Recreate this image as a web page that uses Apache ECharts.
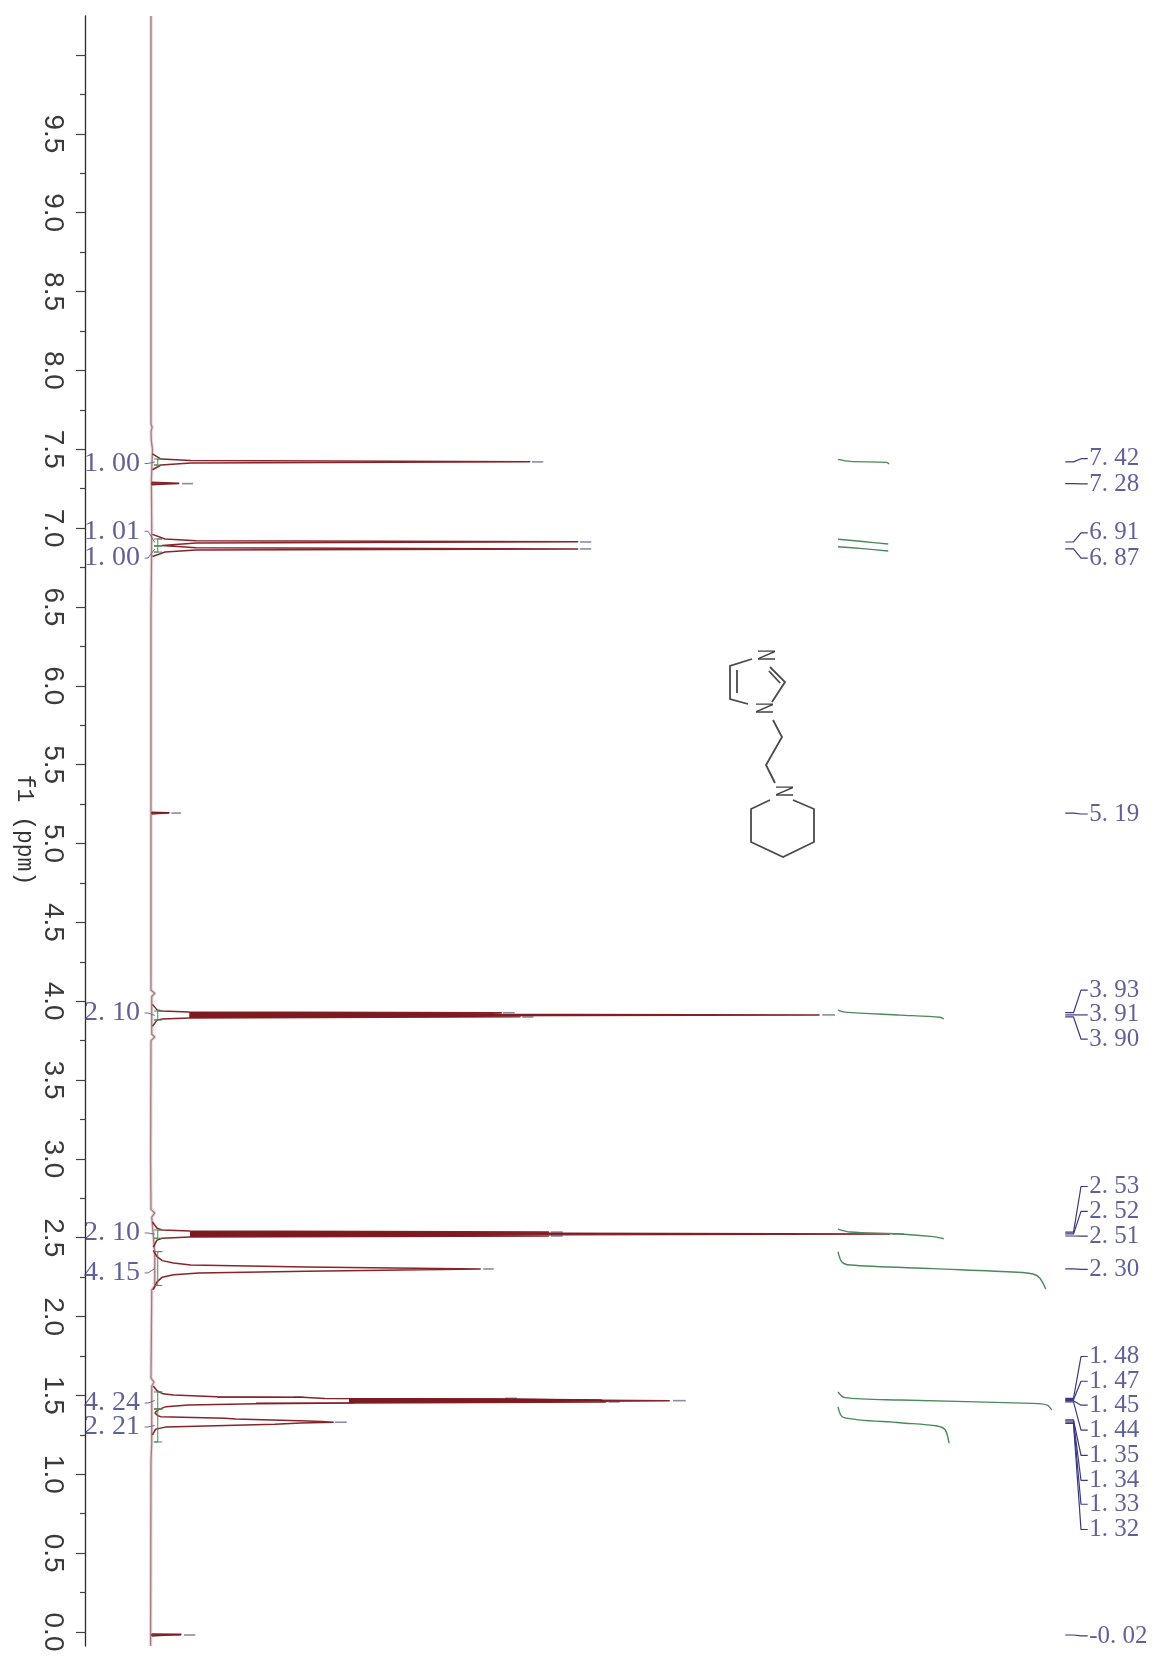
<!DOCTYPE html>
<html>
<head>
<meta charset="utf-8">
<style>html,body{margin:0;padding:0;background:#fff}#c{width:1156px;height:1657px}</style>
<script src="https://cdn.jsdelivr.net/npm/echarts@6/dist/echarts.min.js"></script>
</head>
<body>
<div id="c"></div>
<script>
// ---- axis ----
const majorTicks = [0,0.5,1,1.5,2,2.5,3,3.5,4,4.5,5,5.5,6,6.5,7,7.5,8,8.5,9,9.5,10];
const minorTicks = [0.25,0.75,1.25,1.75,2.25,2.75,3.25,3.75,4.25,4.75,5.25,5.75,6.25,6.75,7.25,7.75,8.25,8.75,9.25,9.75];
const tickLabels = [0,0.5,1,1.5,2,2.5,3,3.5,4,4.5,5,5.5,6,6.5,7,7.5,8,8.5,9,9.5];

// ---- spectrum, all points are [ppm, intensity] ----
const baseline = [[10.247,0],[7.66,0],[7.64,0.15],[7.61,0],[7.55,0.05],[7.5,0.2],[7.3,0.05],[7.0,0.1],[6.7,0.05],[6.5,0],
  [4.07,0],[4.05,0.5],[4.03,0.1],[3.79,0.1],[3.773,0.5],[3.75,0],[3.0,-0.05],[2.68,0],[2.657,0.5],[2.63,0.1],[2.403,0.5],[2.194,0.5],[2.17,0.1],
  [1.61,0],[1.585,0.4],[1.56,0.1],[1.2,0.1],[1.1,0],[0.05,-0.05],[-0.089,-0.05]];

const peak742 = [[7.47,0.2],[7.438,1.33],[7.428,5.33],[7.42,50.5],[7.413,5.33],[7.4,1.33],[7.37,0.2]];
const peak728 = [[7.29,0.1],[7.285,3.7],[7.28,3.7],[7.275,0.1]];
const peak691 = [[6.96,0.2],[6.931,1.87],[6.92,6],[6.913,56.9],[6.906,6],[6.89,1.5],[6.875,6],[6.868,56.9],[6.861,6],[6.848,1.87],[6.82,0.2]];
const peak519 = [[5.198,0.1],[5.195,2.4],[5.19,2.4],[5.187,0.1]];
const peak391 = [[3.98,0.2],[3.945,0.8],[3.938,1.5],[3.931,5.1],[3.927,46.7],[3.918,40],[3.913,89.07],[3.908,40],[3.901,49.2],[3.893,5.1],[3.887,1.5],[3.88,0.8],[3.84,0.2]];
const peak252 = [[2.6,0.2],[2.56,0.8],[2.549,1.5],[2.543,5.2],[2.536,53],[2.53,40],[2.524,98.5],[2.518,40],[2.511,53],[2.505,5.2],[2.497,1.5],[2.485,0.8],[2.44,0.3]];
const peak230 = [[2.42,0.3],[2.38,0.8],[2.355,1.5],[2.34,3],[2.327,5.3],[2.314,20.7],[2.302,43.9],[2.287,20.7],[2.277,6.4],[2.265,3],[2.25,1.5],[2.22,0.8],[2.17,0.3]];
const peak146 = [[1.56,0.3],[1.53,0.8],[1.51,1.6],[1.503,3],[1.492,8.8],[1.488,20.2],[1.481,23.2],[1.478,45],[1.476,48],[1.47,60],[1.467,69.1],[1.463,60],[1.459,60.6],[1.452,27],[1.447,14],[1.44,5],[1.429,2],[1.41,1],[1.39,0.5]];
const peak133 = [[1.39,0.5],[1.372,0.9],[1.365,1.33],[1.355,9.9],[1.35,11.3],[1.338,20.9],[1.335,22.7],[1.33,24.3],[1.325,20],[1.317,16.5],[1.3,2],[1.296,1.6],[1.285,0.6],[1.25,0.2]];
const peak002 = [[-0.012,0.1],[-0.015,4],[-0.022,4],[-0.025,0.1]];

// filled parts of the unresolved multiplets
const fill391 = [[3.931,5.1],[3.927,46.7],[3.918,40],[3.913,89.07],[3.908,40],[3.901,49.2],[3.893,5.1]];
const fill252 = [[2.543,5.2],[2.536,53],[2.53,40],[2.524,98.5],[2.518,40],[2.511,53],[2.505,5.2]];
const fill146 = [[1.482,26.4],[1.482,45.8],[1.476,60],[1.46,60.6],[1.452,26.4]];
const fill146a = [[1.492,8.8],[1.49,20],[1.486,20],[1.486,8.8]];
const fill146b = [[1.455,14],[1.455,27],[1.449,27],[1.449,14]];
const fill728 = [[7.285,0],[7.285,3.7],[7.278,3.7],[7.278,0]];
const fill519 = [[5.197,0],[5.197,2.4],[5.189,2.4],[5.189,0]];
const fill002 = [[-0.014,0],[-0.014,4],[-0.023,4],[-0.023,0]];

// pale peak-tip dashes: [ppm, from, to]
const tipDashes = [[7.42,50.8,52.3],[7.282,4.13,5.6],[6.912,57.2,58.7],[6.868,57.2,58.7],[5.193,2.7,4],[3.927,46.9,48.5],[3.9,49.5,51],[3.913,89.5,91.2],
  [2.536,53.3,54.9],[2.511,53.3,54.9],[2.524,98.8,100.4],[2.302,44.3,45.7],[1.49,19,20.3],[1.482,47.2,48.8],[1.467,69.6,71.3],[1.459,61,62.5],[1.33,24.5,26.1],[-0.019,4.4,5.9]];

// ---- integral curves, [ppm, intensity] ----
const integral1 = [[7.436,91.6],[7.423,93.2],[7.417,98.1],[7.406,98.4]];
const integral2 = [[6.929,91.6],[6.915,94.9],[6.899,98.3]];
const integral3 = [[6.882,91.6],[6.87,94.9],[6.855,98.3]];
const integral4 = [[3.944,91.6],[3.931,92.5],[3.912,99.9],[3.898,105.2],[3.887,105.7]];
const integral5 = [[2.555,91.6],[2.536,93.2],[2.524,99.9],[2.507,104.3],[2.494,105.7]];
const integral6 = [[2.412,91.6],[2.348,92.1],[2.327,93.2],[2.304,104.3],[2.281,115.5],[2.27,117.6],[2.245,118.5],[2.175,119.3]];
const integral7 = [[1.522,91.6],[1.486,92.5],[1.471,99.9],[1.45,117.6],[1.439,119.5],[1.408,120.1]];
const integral8 = [[1.427,91.6],[1.361,92.3],[1.327,99.9],[1.306,104.8],[1.281,105.9],[1.198,106.4]];

// ---- integral brackets by the baseline: [ppm from, ppm to] ----
const integralRanges = [[7.438,7.4],[6.931,6.887],[6.887,6.848],[3.938,3.881],[2.549,2.497],[2.412,2.197],[1.522,1.414],[1.414,1.205]];
const integralLabels = ['1. 00','1. 01','1. 00','2. 10','2. 10','4. 15','4. 24','2. 21'];
const integralLabelPpm = [7.41,6.98,6.81,3.925,2.53,2.277,1.452,1.3];

// ---- peak picks ----
const pickLabels = ['7. 42','7. 28','6. 91','6. 87','5. 19','3. 93','3. 91','3. 90','2. 53','2. 52','2. 51','2. 30','1. 48','1. 47','1. 45','1. 44','1. 35','1. 34','1. 33','1. 32','-0. 02'];
const pickPpm = [7.42,7.282,6.912,6.868,5.193,3.927,3.913,3.9,2.536,2.524,2.511,2.302,1.482,1.473,1.467,1.459,1.345,1.338,1.33,1.322,-0.019];
const pickLabelPpm = [7.44,7.28,6.97,6.81,5.187,4.07,3.913,3.76,2.825,2.667,2.51,2.3,1.747,1.59,1.438,1.28,1.12,0.962,0.81,0.65,-0.025];

// ---- styling constants ----
const PEAK = '#86242a', GREEN = '#4a8a58', BLUE = '#3a3a80';
const LEAD = [121.9, 123.0, 124.0, 124.9], LABEL_X = 125.1;

const toXY = a => a.map(p => [p[1], p[0]]);
const lineSeries = (pts, color, width, z) => ({type:'line', data:toXY(pts), showSymbol:false, symbol:'none', silent:true, clip:false, z:z||3, animation:false,
  lineStyle:{color:color, width:width, join:'round'}, smooth:false});

const series = [];
series.push(lineSeries(baseline,'#ecdcdc',3.5,1));
series.push(lineSeries(baseline,'#a27c7e',1.3,2));
[peak742,peak728,peak691,peak519,peak391,peak252,peak230,peak146,peak133,peak002].forEach(p => series.push(lineSeries(p,PEAK,1.5,4)));

const fills = [fill391,fill252,fill146,fill146a,fill146b,fill728,fill519,fill002];
series.push({type:'custom', coordinateSystem:'cartesian2d', silent:true, z:5, clip:false, animation:false,
  data:fills.map((f,i)=>[i]),
  renderItem:(params,api)=>({type:'polygon', shape:{points:fills[api.value(0)].map(p=>api.coord([p[1],p[0]]))}, style:{fill:'#7d1a20'}})});

tipDashes.forEach(d => series.push(lineSeries([[d[0],d[1]],[d[0],d[2]]],'#8a8aa6',1.6,3)));

[integral1,integral2,integral3,integral4,integral5,integral6,integral7,integral8].forEach(p => {
  const s = lineSeries(p,GREEN,1.4,6); s.smooth = 0.3; series.push(s);
});

// brackets and left leaders
integralRanges.forEach((r,i) => {
  series.push(lineSeries([[r[0],0.4],[r[0],1.5],[r[0],0.9],[r[1],0.9],[r[1],0.4],[r[1],1.5]],GREEN,1,6));
  const mid = (r[0]+r[1])/2;
  series.push(lineSeries([[integralLabelPpm[i],-0.85],[integralLabelPpm[i],-0.4],[mid,0.5]],'#6d6d96',1,6));
});

// right leaders
pickPpm.forEach((v,i) => {
  series.push(lineSeries([[v,LEAD[0]],[v,LEAD[1]],[pickLabelPpm[i],LEAD[2]],[pickLabelPpm[i],LEAD[3]]],BLUE,1.2,6));
});

// text labels
const textSeries = (labels, ppm, x, size, pos) => ({type:'scatter', symbolSize:0.01, silent:true, clip:false, z:8, animation:false,
  data:labels.map((t,i)=>({value:[x,ppm[i]], name:t})),
  label:{show:true, position:pos, distance:0, formatter:p=>p.name, color:BLUE, fontFamily:'Liberation Serif', fontSize:size}});
series.push(textSeries(integralLabels, integralLabelPpm, -1.47, 28, 'left'));
series.push(textSeries(pickLabels, pickLabelPpm, LABEL_X, 25, 'right'));

const chart = echarts.init(document.getElementById('c'), null, {renderer:'canvas'});

const molStyle = {stroke:'#4a4a4a', lineWidth:1.8, fill:null};
const poly = pts => ({type:'polyline', shape:{points:pts}, style:molStyle, silent:true});
const nText = (x,y) => ({type:'text', x:x, y:y, rotation:-Math.PI/2, scaleX:0.7, style:{text:'N', font:'24px "Liberation Sans"', fill:'#444', align:'center', verticalAlign:'middle'}, silent:true});

chart.setOption({
  animation:false,
  backgroundColor:'#fff',
  grid:{left:85, top:16, width:1071, height:1630, containLabel:false},
  xAxis:{type:'value', min:-8.8, max:134, show:false},
  yAxis:[
    {type:'value', min:-0.0888, max:10.2473, position:'left',
      axisLine:{show:true, onZero:false, lineStyle:{color:'#2b2b2b', width:1.3}},
      axisTick:{show:true, length:9, customValues:majorTicks, lineStyle:{color:'#444', width:1.2}},
      axisLabel:{show:true, rotate:-90, margin:18, customValues:tickLabels, color:'#3a3a3a',
        fontFamily:'Liberation Sans', fontSize:28, formatter:v=>v.toFixed(1)},
      splitLine:{show:false}},
    {type:'value', min:-0.0888, max:10.2473, position:'left',
      axisLine:{show:false, onZero:false},
      axisTick:{show:true, length:5, customValues:minorTicks, lineStyle:{color:'#444', width:1.2}},
      axisLabel:{show:false}, splitLine:{show:false}}
  ],
  series:series,
  graphic:[
    {type:'text', x:24, y:830, rotation:-Math.PI/2, silent:true,
      style:{text:'f1 (ppm)', font:'23px "Liberation Mono"', fill:'#333', align:'center', verticalAlign:'middle'}},
    poly([[752,659],[730,666],[730,699],[748,704]]),
    poly([[737,670],[737,693]]),
    poly([[770,667],[785,682],[772,702]]),
    poly([[769,671],[780,683]]),
    poly([[773,720],[782,737],[766,765],[775,783]]),
    poly([[770,800],[751,809],[751,842],[783,857],[814,842],[814,809],[793,800]]),
    nText(765,655), nText(763,708), nText(783,791)
  ]
});
</script>
</body>
</html>
